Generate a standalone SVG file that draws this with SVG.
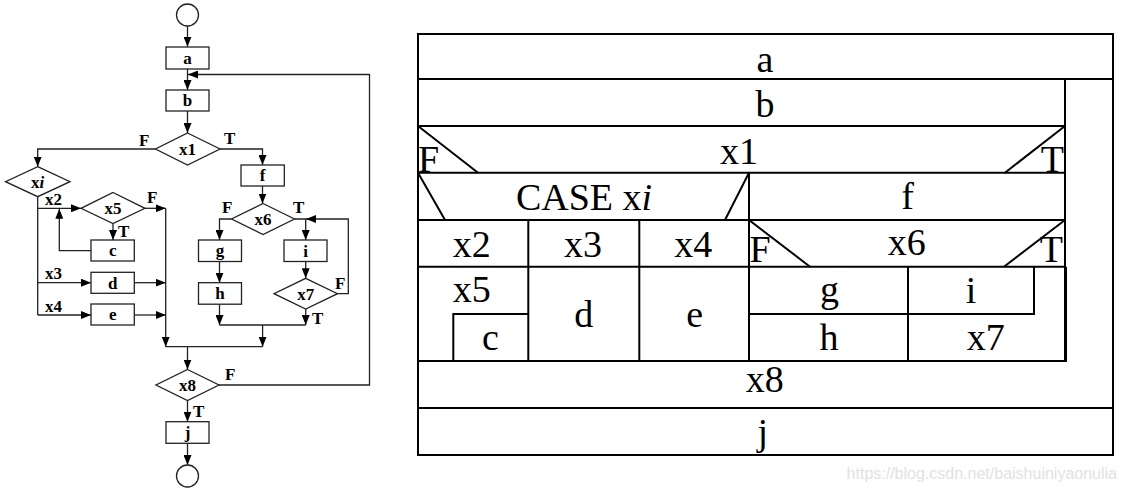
<svg xmlns="http://www.w3.org/2000/svg" width="1127" height="492" viewBox="0 0 1127 492">
<style>
.fc{fill:#fff;stroke:#222;stroke-width:1.3}
.cn{fill:none;stroke:#222;stroke-width:1.3}
.lb{font-family:"Liberation Serif","Times New Roman",serif;font-weight:bold;font-size:17px;fill:#000}
.lc{text-anchor:middle}
.ns{fill:none;stroke:#000;stroke-width:2}
.nt{font-family:"Liberation Serif","Times New Roman",serif;font-size:38px;fill:#000;text-anchor:middle}
.ntl{font-family:"Liberation Serif","Times New Roman",serif;font-size:38px;fill:#000}
.wm{font-family:"Liberation Sans",Arial,sans-serif;font-size:16px;fill:#e2e2e2;text-anchor:end}
</style>
<defs>
<marker id="ah" viewBox="0 0 10 8" refX="10" refY="4" markerWidth="10" markerHeight="8" markerUnits="userSpaceOnUse" orient="auto">
<path d="M0,0 L10,4 L0,8 Z" fill="#000"/>
</marker>
</defs>
<rect width="1127" height="492" fill="#fff"/>

<!-- Flowchart connectors -->
<g id="connectors" class="cn">
<path d="M187.5,26 V46.7" marker-end="url(#ah)"/>
<path d="M187.5,69 V90" marker-end="url(#ah)"/>
<path d="M187.5,111 V133" marker-end="url(#ah)"/>
<path d="M155.5,149 H37.7 V166.7" marker-end="url(#ah)"/>
<path d="M220,149 H262.5 V165" marker-end="url(#ah)"/>
<path d="M262.5,186 V203.5" marker-end="url(#ah)"/>
<path d="M231.5,219 H219.5 V240" marker-end="url(#ah)"/>
<path d="M219.5,261.5 V282.7" marker-end="url(#ah)"/>
<path d="M219.5,304.2 V325" marker-end="url(#ah)"/>
<path d="M294.5,219 H305.7 V240" marker-end="url(#ah)"/>
<path d="M305.7,261.5 V278.3" marker-end="url(#ah)"/>
<path d="M305.7,309 V325" marker-end="url(#ah)"/>
<path d="M337.5,293.7 H348.3 V219 H306" marker-end="url(#ah)"/>
<path d="M219.5,325 H305.7"/>
<path d="M262.6,325 V346.7" marker-end="url(#ah)"/>
<path d="M165.7,208.3 V346.7" marker-end="url(#ah)"/>
<path d="M165.7,346.7 H262.6"/>
<path d="M187.5,346.7 V369.5" marker-end="url(#ah)"/>
<path d="M219,385 H369.5 V74.5 H188" marker-end="url(#ah)"/>
<path d="M187.5,400.5 V421.7" marker-end="url(#ah)"/>
<path d="M187.5,443.3 V465" marker-end="url(#ah)"/>
<path d="M37.7,196.7 V315"/>
<path d="M37.7,208.3 H81" marker-end="url(#ah)"/>
<path d="M145,208.3 H165.7" marker-end="url(#ah)"/>
<path d="M113,223.5 V240" marker-end="url(#ah)"/>
<path d="M91,250.7 H59.3 V208.8" marker-end="url(#ah)"/>
<path d="M37.7,282.7 H91" marker-end="url(#ah)"/>
<path d="M134.3,282.7 H165.7" marker-end="url(#ah)"/>
<path d="M37.7,315 H91" marker-end="url(#ah)"/>
<path d="M134.3,315 H165.7" marker-end="url(#ah)"/>
</g>

<!-- Flowchart nodes -->
<g id="start"><circle class="fc" cx="187.5" cy="15" r="11"/></g>
<g id="node-a"><rect class="fc" x="166" y="47" width="43" height="22"/><text class="lb lc" x="187.5" y="63.5">a</text></g>
<g id="node-b"><rect class="fc" x="166" y="90" width="43" height="21"/><text class="lb lc" x="187.5" y="106">b</text></g>
<g id="node-x1"><polygon class="fc" points="187.5,133 220,149 187.5,165 155.5,149"/><text class="lb lc" x="187.5" y="155">x1</text>
<text class="lb" x="139" y="146">F</text><text class="lb" x="224" y="144">T</text></g>
<g id="node-xi"><polygon class="fc" points="37.7,166.7 70,181.7 37.7,196.7 5.5,181.7"/><text class="lb lc" x="37.7" y="187.5">x<tspan font-style="italic">i</tspan></text>
<text class="lb" x="45" y="205">x2</text><text class="lb" x="45" y="279">x3</text><text class="lb" x="45" y="312">x4</text></g>
<g id="node-x5"><polygon class="fc" points="113,192.5 145,208.3 113,223.5 81,208.3"/><text class="lb lc" x="113" y="214">x5</text>
<text class="lb" x="147" y="203">F</text><text class="lb" x="118" y="237">T</text></g>
<g id="node-c"><rect class="fc" x="91" y="240" width="43.3" height="21"/><text class="lb lc" x="112.7" y="256">c</text></g>
<g id="node-d"><rect class="fc" x="91" y="272.3" width="43.3" height="21"/><text class="lb lc" x="112.7" y="288.5">d</text></g>
<g id="node-e"><rect class="fc" x="91" y="304" width="43.3" height="21"/><text class="lb lc" x="112.7" y="320">e</text></g>
<g id="node-f"><rect class="fc" x="241" y="165" width="43.3" height="21"/><text class="lb lc" x="262.6" y="181">f</text></g>
<g id="node-x6"><polygon class="fc" points="263,203.5 294.5,219 263,234.5 231.5,219"/><text class="lb lc" x="263" y="225">x6</text>
<text class="lb" x="222" y="213">F</text><text class="lb" x="293" y="213">T</text></g>
<g id="node-g"><rect class="fc" x="198.5" y="240" width="43" height="21.5"/><text class="lb lc" x="220" y="255.5">g</text></g>
<g id="node-h"><rect class="fc" x="198.5" y="282.7" width="43" height="21.5"/><text class="lb lc" x="220" y="299">h</text></g>
<g id="node-i"><rect class="fc" x="284" y="240" width="43" height="21.5"/><text class="lb lc" x="305.5" y="256.5">i</text></g>
<g id="node-x7"><polygon class="fc" points="305.7,278.3 337.5,293.7 305.7,309 274,293.7"/><text class="lb lc" x="305.7" y="299.5">x7</text>
<text class="lb" x="335" y="289">F</text><text class="lb" x="312" y="324">T</text></g>
<g id="node-x8"><polygon class="fc" points="187.5,369.5 219,385 187.5,400.5 156,385"/><text class="lb lc" x="187.5" y="391">x8</text>
<text class="lb" x="225" y="380">F</text><text class="lb" x="193" y="417">T</text></g>
<g id="node-j"><rect class="fc" x="166" y="421.7" width="43" height="21.6"/><text class="lb lc" x="187.5" y="437.5">j</text></g>
<g id="end"><circle class="fc" cx="187.5" cy="476" r="11"/></g>

<!-- N-S diagram -->
<g id="ns-diagram">
<rect class="ns" x="418" y="34" width="695" height="421"/>
<path class="ns" d="M418,79 H1113 M1065,79 V361 M418,126 H1065 M418,172.7 H1065 M418,220 H1065 M418,266.7 H1066 M418,361 H1066 V266.7 M418,408 H1113"/>
<path class="ns" d="M749,172.7 V361 M528.3,220 V361 M639.3,220 V361 M453.3,361 V314 H528.3"/>
<path class="ns" d="M749,314 H1034 V266.7 M908,266.7 V361"/>
<path class="ns" d="M418,126 L478,172.7 M1065,126 L1005,172.7 M418,172.7 L445,220 M749,172.7 L725,220 M749,220 L810,266.7 M1065,220 L1004,266.7"/>
<text class="nt" x="765" y="72">a</text>
<text class="nt" x="765" y="116.5">b</text>
<text class="nt" x="739" y="163.5">x1</text>
<text class="ntl" x="418" y="171.5">F</text>
<text class="ntl" x="1064" y="171.5" text-anchor="end">T</text>
<text class="nt" x="584" y="210">CASE x<tspan font-style="italic">i</tspan></text>
<text class="nt" x="907.5" y="208.5">f</text>
<text class="nt" x="471.7" y="256.7">x2</text>
<text class="nt" x="583" y="256.7">x3</text>
<text class="nt" x="693.3" y="256.7">x4</text>
<text class="nt" x="906.7" y="255">x6</text>
<text class="ntl" x="749.5" y="261.7">F</text>
<text class="ntl" x="1063" y="261.7" text-anchor="end">T</text>
<text class="nt" x="471.7" y="301.7">x5</text>
<text class="nt" x="490.5" y="350">c</text>
<text class="nt" x="583.8" y="326.7">d</text>
<text class="nt" x="694.7" y="326.7">e</text>
<text class="nt" x="829.5" y="301.5">g</text>
<text class="nt" x="971" y="302.5">i</text>
<text class="nt" x="829" y="350">h</text>
<text class="nt" x="985.8" y="350">x7</text>
<text class="nt" x="764.7" y="391.7">x8</text>
<text class="nt" x="762.7" y="445">j</text>
</g>
<text class="wm" x="1117" y="479">https://blog.csdn.net/baishuiniyaonulia</text>
</svg>
